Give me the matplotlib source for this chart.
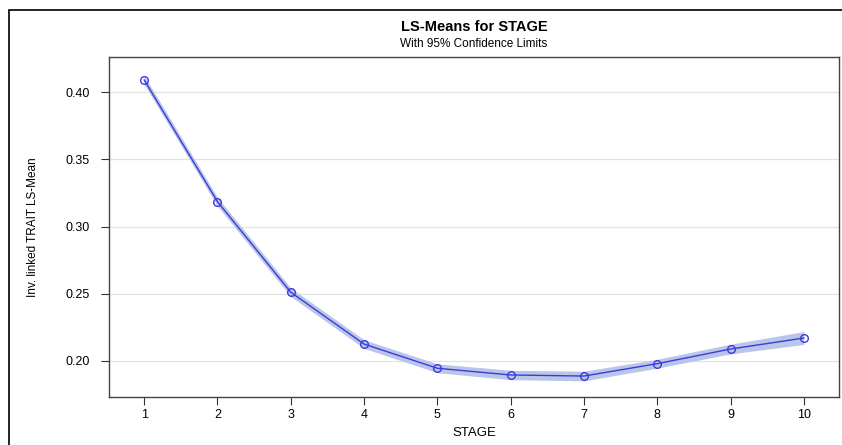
import matplotlib
matplotlib.use("Agg")
import matplotlib.pyplot as plt
from matplotlib.patches import Rectangle
import numpy as np

stages = [1, 2, 3, 4, 5, 6, 7, 8, 9, 10]
lsmean = [0.4092, 0.3186, 0.2512, 0.2126, 0.1946, 0.1896, 0.1888, 0.1980, 0.2089, 0.2171]
lower = [0.4060, 0.3154, 0.2480, 0.2094, 0.1913, 0.1861, 0.1852, 0.1947, 0.2053, 0.2123]
upper = [0.4124, 0.3218, 0.2544, 0.2158, 0.1979, 0.1931, 0.1924, 0.2013, 0.2125, 0.2219]
yticks = [0.20, 0.25, 0.30, 0.35, 0.40]

plt.rcParams['font.family'] = ['Liberation Sans', 'DejaVu Sans']

fig = plt.figure(figsize=(8.42, 4.45), dpi=100)
W, H = 842, 445
# outer frame
fig.patches.append(Rectangle((9 / W, -0.05), 1.1, 1 - 10 / H + 0.05, transform=fig.transFigure,
                             fill=False, edgecolor='black', linewidth=1.2, zorder=0))

ax = fig.add_axes([109 / W, 1 - 397 / H, (839 - 109) / W, (397 - 57) / H])
ax.fill_between(stages, lower, upper, color='#bac6e8', linewidth=0, zorder=2)
ax.plot(stages, lsmean, color='#3b3bdc', linewidth=1.0, zorder=3,
        marker='o', markersize=5.5, markerfacecolor='none', markeredgecolor='#3b3bdc',
        markeredgewidth=1.0)

ax.set_xlim(0.52, 10.48)
ax.set_ylim(0.1732, 0.4263)
ax.set_xticks(stages)
ax.set_xticklabels([str(s) for s in stages])
ax.set_yticks(yticks)
ax.set_yticklabels([f"{v:.2f}" for v in yticks])
ax.yaxis.grid(True, color='#e2e2e2', linewidth=0.9, zorder=0)
ax.set_axisbelow(True)
ax.tick_params(axis='both', labelsize=9, colors='#333333', length=6, width=0.8)
ax.tick_params(axis='y', pad=8)
ax.tick_params(axis='x', pad=3)
ax.tick_params(axis='both', labelcolor='black')
for s in ax.spines.values():
    s.set_color('#444444')
    s.set_linewidth(1.0)

ax.set_xlabel('STAGE', fontsize=9.5, labelpad=4)
ax.set_ylabel('Inv. linked TRAIT LS-Mean', fontsize=8.5)
ax.yaxis.set_label_coords(-(109 - 39) / 730, 0.5)

cx = (109 + 839) / 2 / W
fig.text(cx, 1 - 27 / H, 'LS-Means for STAGE', ha='center', va='center',
         fontsize=10.5, fontweight='bold')
fig.text(cx, 1 - 44 / H, 'With 95% Confidence Limits', ha='center', va='center',
         fontsize=8.5)

fig.savefig('out.png', dpi=100)
